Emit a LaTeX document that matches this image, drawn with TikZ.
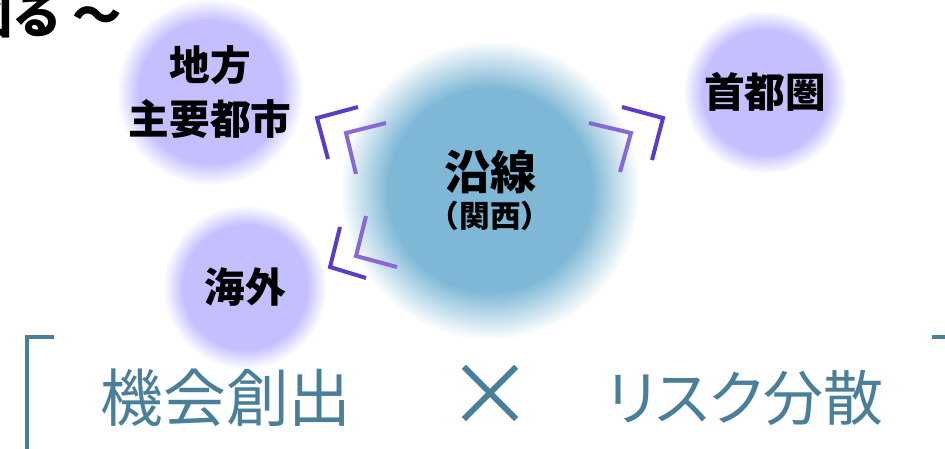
\documentclass[tikz,border=0pt]{standalone}
\usepackage{fontspec}
\setmainfont{Noto Sans CJK JP}
\newfontfamily\jpprop[RawFeature=+palt]{Noto Sans CJK JP}
\definecolor{lav}{HTML}{C4C0FF}
\definecolor{sky}{HTML}{7FB8D6}
\definecolor{chevdark}{HTML}{5A3CC8}
\definecolor{chevlight}{HTML}{8868D8}
\definecolor{steel}{HTML}{4A7F9A}
\pgfdeclareradialshading{satglow}{\pgfpoint{0bp}{0bp}}{color(0bp)=(lav); color(19bp)=(lav); color(25bp)=(white); color(50bp)=(white)}
\pgfdeclareradialshading{hubglow}{\pgfpoint{0bp}{0bp}}{color(0bp)=(sky); color(17bp)=(sky); color(25bp)=(white); color(50bp)=(white)}

\begin{document}
\begin{tikzpicture}[x=0.75pt,y=-0.75pt,
	sat/.style={circle,minimum size=123pt,inner sep=0pt,shading=satglow,align=center,font=\bfseries\fontsize{30.5}{41}\selectfont},
	chev/.style={line width=3pt},
	bigtxt/.style={text=steel,font=\fontsize{47}{50}\selectfont}]
	\useasboundingbox (0,0) rectangle (945,449);
	\node[circle,minimum size=225pt,inner sep=0pt,shading=hubglow] (hub) at (490,190) {};
	\node[font=\bfseries\fontsize{34.5}{38}\selectfont] (ensen) at (490,172) {沿線};
	\node[font=\bfseries\fontsize{23}{25}\selectfont] (kansai) at (490,216) {（関西）};
	\node[sat] (chiho) at (210,92) {地方\\主要都市};
	\node[sat] (shuto) at (765,92) {首都圏};
	\node[sat] (kaigai) at (245,287) {海外};
	\node[anchor=east,font=\bfseries\fontsize{37}{40}\selectfont] (title) at (127,16) {図る\hspace{0.22em}～};
	% chevrons
	\draw[chev,chevdark] (358,107) -- (317,118) -- (328,159);
	\draw[chev,chevlight] (386,123) -- (346,133) -- (356,174);
	\draw[chev,chevdark] (340,227) -- (330,267) -- (366,278);
	\draw[chev,chevlight] (366,216) -- (356,256) -- (397,267);
	\draw[chev,chevdark] (622,107) -- (663,118) -- (652,160);
	\draw[chev,chevlight] (589,123) -- (631,133) -- (620,172);
	% bottom
	\draw[line width=3pt,steel] (54,337) -- (27,337) -- (27,460);
	\draw[line width=3pt,steel] (932,337) -- (952,337) -- (952,460);
	\node[bigtxt] (chance) at (226,398) {機会創出};
	\node[bigtxt,font=\fontsize{66}{70}\selectfont] (times) at (490,396) {×};
	\node[bigtxt,font=\jpprop\fontsize{45}{50}\selectfont] (risk) at (745,398) {リスク分散};
\end{tikzpicture}
\end{document}
